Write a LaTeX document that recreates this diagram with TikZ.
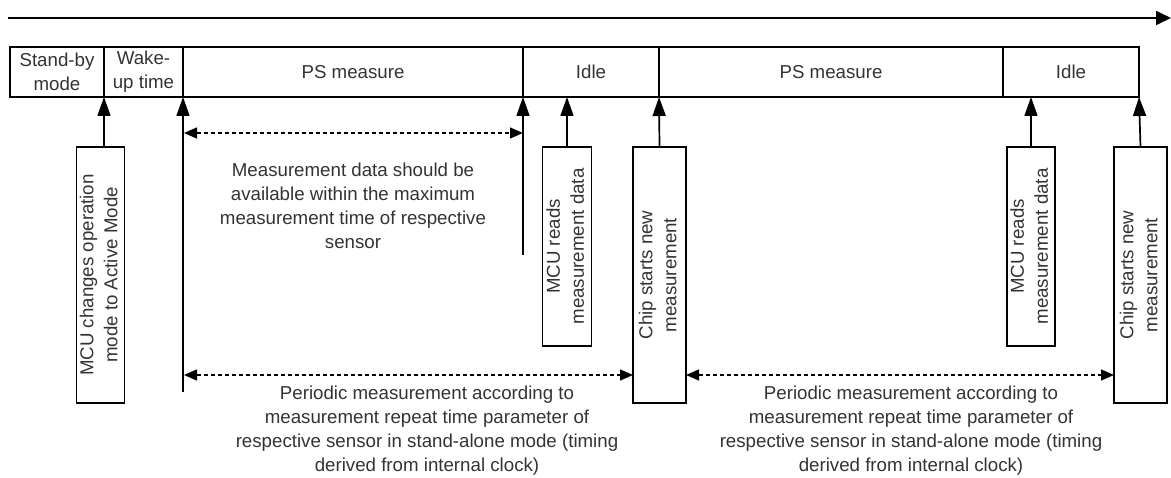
\documentclass[tikz,border=0pt]{standalone}
\usepackage{fontspec}
\setmainfont{Liberation Sans}
\usepackage{graphicx}
\usetikzlibrary{arrows.meta,positioning}

\begin{document}
\begin{tikzpicture}[x=1pt,y=-1pt,node distance=0pt,
  font=\fontsize{18.7}{24}\selectfont, text=black!80,
  seg/.style={draw=black,line width=1.6pt,minimum height=50pt,inner sep=0pt,outer sep=0pt,align=center},
  event/.style={draw=black,line width=1.6pt,inner sep=0pt,outer sep=0pt},
  trig/.style={line width=1.7pt,-{Triangle[length=19pt,width=13pt]}},
  span/.style={line width=1.5pt,dash pattern=on 4pt off 3pt,
    {Triangle[length=13pt,width=11pt]}-{Triangle[length=13pt,width=11pt]}},
  note/.style={align=center,inner sep=0pt}]
  \useasboundingbox (0,0) rectangle (1171,478);
  % time axis
  \coordinate (t_0) at (8,18);
  \coordinate (t_1) at (1171,18);
  \draw[line width=1.7pt,-{Triangle[length=15pt,width=14pt]}] (t_0) -- (t_1);

  % phases
  \path
  node[seg,minimum width=94pt,anchor=west] (standby) at (10,72) {Stand-by\\mode}
  node[seg,minimum width=79pt] (wake) [right=of standby] {Wake-\\up time}
  node[seg,minimum width=340pt] (ps_1) [right=of wake] {PS measure}
  node[seg,minimum width=136pt] (idle_1) [right=of ps_1] {Idle}
  node[seg,minimum width=344pt] (ps_2) [right=of idle_1] {PS measure}
  node[seg,minimum width=136pt] (idle_2) [right=of ps_2] {Idle}
  ;

  % events
  \path
  node[event,minimum width=47pt,minimum height=256pt] (mcu_0) at (100.5,275)
    {\rotatebox{90}{\begin{tabular}{@{}c@{}}MCU changes operation\\mode to Active Mode\end{tabular}}}
  node[event,minimum width=49pt,minimum height=199pt] (mcu_1) at (567,246.5)
    {\rotatebox{90}{\begin{tabular}{@{}c@{}}MCU reads\\measurement data\end{tabular}}}
  node[event,minimum width=53pt,minimum height=256pt] (chip_1) at (659.5,275)
    {\rotatebox{90}{\begin{tabular}{@{}c@{}}Chip starts new\\measurement\end{tabular}}}
  node[event,minimum width=48pt,minimum height=199pt] (mcu_2) at (1031,246.5)
    {\rotatebox{90}{\begin{tabular}{@{}c@{}}MCU reads\\measurement data\end{tabular}}}
  node[event,minimum width=53pt,minimum height=256pt] (chip_2) at (1140.5,275)
    {\rotatebox{90}{\begin{tabular}{@{}c@{}}Chip starts new\\measurement\end{tabular}}}
  ;

  \coordinate (w_0) at (183,392);
  \coordinate (r_0) at (523,255);
  \draw[trig] (mcu_0.north -| standby.south east) -- (standby.south east);
  \draw[trig] (w_0) -- (wake.south east);
  \draw[trig] (r_0) -- (ps_1.south east);
  \draw[trig] (mcu_1.north) -- (mcu_1.north |- idle_1.south);
  \draw[trig] (chip_1.north) -- (idle_1.south east);
  \draw[trig] (mcu_2.north) -- (mcu_2.north |- idle_2.south);
  \draw[trig] (chip_2.north) -- (idle_2.south east);

  % spans
  \coordinate (m_0) at (184,133);
  \coordinate (p_0) at (184,375);
  \draw[span] (m_0) -- (m_0 -| r_0);
  \draw[span] (p_0) -- (p_0 -| chip_1.west);
  \draw[span] (p_0 -| chip_1.east) -- (p_0 -| chip_2.west);

  \node[note] (maxtime) at (353,206) {Measurement data should be\\available within the maximum\\measurement time of respective\\sensor};
  \node[note] (period_1) at (427,431) {Periodic measurement according to\\measurement repeat time parameter of\\respective sensor in stand-alone mode (timing\\derived from internal clock)};
  \node[note] (period_2) at (911,431) {Periodic measurement according to\\measurement repeat time parameter of\\respective sensor in stand-alone mode (timing\\derived from internal clock)};
\end{tikzpicture}
\end{document}
